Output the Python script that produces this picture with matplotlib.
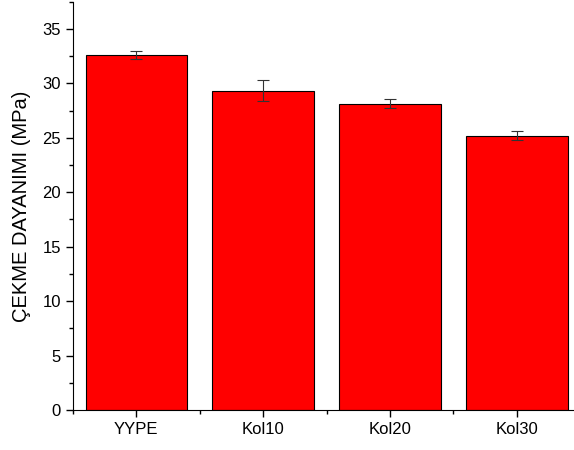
import matplotlib.pyplot as plt
from matplotlib.ticker import MultipleLocator

plt.rcParams['font.family'] = ['Liberation Sans', 'DejaVu Sans']

# ortalama çekme dayanımı ve standart sapma
numuneler = ['YYPE', 'Kol10', 'Kol20', 'Kol30']
dayanim = [32.6, 29.35, 28.15, 25.2]
hata = [0.4, 1.0, 0.42, 0.4]

fig = plt.figure(figsize=(5.74, 4.5), dpi=100)
ax = fig.add_axes([0.127, 0.089, 0.873, 0.907])

x = list(range(len(numuneler)))
ax.bar(x, dayanim, width=0.8, color='#ff0000', edgecolor='black', linewidth=0.8,
       yerr=hata, capsize=4, error_kw=dict(ecolor='#333333', elinewidth=0.8, capthick=0.8))

ax.set_xlim(-0.5, 3.45)
ax.set_ylim(0, 37.5)
ax.set_xticks(x)
ax.set_xticklabels(numuneler)
ax.xaxis.set_minor_locator(MultipleLocator(1.0, offset=0.5))
ax.yaxis.set_major_locator(MultipleLocator(5))
ax.yaxis.set_minor_locator(MultipleLocator(2.5))
ax.tick_params(which='major', direction='out', length=5, width=1, labelsize=12)
ax.tick_params(which='minor', direction='out', length=3, width=1)
ax.spines['top'].set_visible(False)
ax.spines['right'].set_visible(False)
ax.set_ylabel('ÇEKME DAYANIMI (MPa)', fontsize=14.5, labelpad=8)

fig.savefig('out.png', dpi=100)
